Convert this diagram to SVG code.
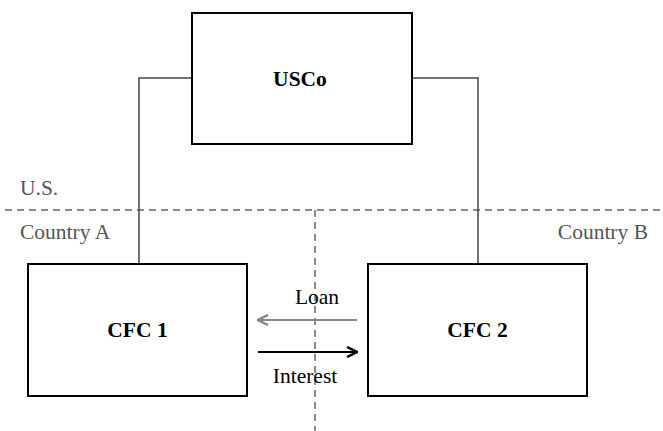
<svg xmlns="http://www.w3.org/2000/svg" width="663" height="431" viewBox="0 0 663 431">
  <style>
    .box { fill: #ffffff; stroke: #000000; stroke-width: 2; }
    .title { font-family: "Liberation Serif", "Times New Roman", serif; font-size: 21.5px; font-weight: bold; fill: #000000; text-anchor: middle; }
    .region { font-family: "Liberation Serif", "Times New Roman", serif; font-size: 21.5px; fill: #555555; }
    .flow { font-family: "Liberation Serif", "Times New Roman", serif; font-size: 21.5px; fill: #000000; text-anchor: middle; }
    .link { fill: none; stroke: #444444; stroke-width: 1.5; }
    .border { fill: none; stroke: #666666; stroke-width: 1.5; stroke-dasharray: 7 5; }
  </style>
  <defs>
    <marker id="headGray" viewBox="0 0 12 12" refX="11" refY="6" markerWidth="12" markerHeight="12" markerUnits="userSpaceOnUse" orient="auto">
      <path d="M1,1 L11,6 L1,11" fill="none" stroke="#888888" stroke-width="2.5"/>
    </marker>
    <marker id="headBlack" viewBox="0 0 12 12" refX="11" refY="6" markerWidth="12" markerHeight="12" markerUnits="userSpaceOnUse" orient="auto">
      <path d="M1,1 L11,6 L1,11" fill="none" stroke="#000000" stroke-width="2.5"/>
    </marker>
  </defs>

  <!-- jurisdiction borders -->
  <g id="borders">
    <line class="border" x1="5" y1="210" x2="663" y2="210"/>
    <line class="border" x1="315" y1="210" x2="315" y2="431"/>
    <text class="region" x="20" y="195">U.S.</text>
    <text class="region" x="20" y="239">Country A</text>
    <text class="region" x="648" y="239" text-anchor="end">Country B</text>
  </g>

  <!-- ownership lines and intercompany flows -->
  <g id="connectors">
    <polyline class="link" points="192,78 139,78 139,264"/>
    <polyline class="link" points="412,78 478,78 478,264"/>
    <line x1="357" y1="320" x2="258" y2="320" stroke="#888888" stroke-width="2" marker-end="url(#headGray)"/>
    <line x1="258" y1="352" x2="357" y2="352" stroke="#000000" stroke-width="2" marker-end="url(#headBlack)"/>
    <text class="flow" x="317" y="304">Loan</text>
    <text class="flow" x="305" y="383">Interest</text>
  </g>

  <g id="usco">
    <rect class="box" x="192" y="13" width="220" height="131"/>
    <text class="title" x="300" y="86">USCo</text>
  </g>

  <g id="cfc1">
    <rect class="box" x="28" y="264" width="219" height="132"/>
    <text class="title" x="137.5" y="337">CFC 1</text>
  </g>

  <g id="cfc2">
    <rect class="box" x="368" y="264" width="219" height="132"/>
    <text class="title" x="477.5" y="337">CFC 2</text>
  </g>
</svg>
